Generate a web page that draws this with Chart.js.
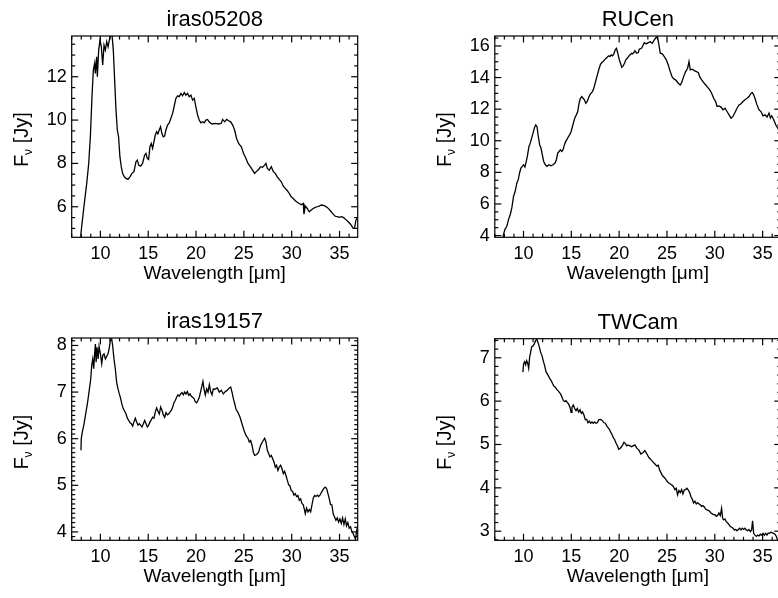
<!DOCTYPE html>
<html>
<head>
<meta charset="utf-8">
<script src="https://cdn.jsdelivr.net/npm/chart.js@4.4.1/dist/chart.umd.min.js"></script>
<style>
  html, body { margin: 0; padding: 0; background: #fff; overflow: hidden; width: 778px; height: 598px; }
  canvas { position: absolute; }
</style>
</head>
<body>
<canvas id="p1" width="389" height="299" style="left:0px;top:0px"></canvas>
<canvas id="p2" width="420" height="299" style="left:389px;top:0px"></canvas>
<canvas id="p3" width="389" height="299" style="left:0px;top:299px"></canvas>
<canvas id="p4" width="420" height="299" style="left:389px;top:299px"></canvas>
<script>
// shared x axis (wavelength, micron)
const xTicks = [10, 15, 20, 25, 30, 35];
const xRange = [7, 36.9];

// iras05208
const iras05208Wl = [7.95, 7.97, 8.08, 8.32, 8.57, 8.78, 8.95, 9.12, 9.26, 9.40, 9.47, 9.61, 9.68, 9.82, 9.96,
  10.10, 10.24, 10.38, 10.52, 10.66, 10.80, 10.93, 11.07, 11.21, 11.35, 11.49, 11.63, 11.77, 11.90,
  12.04, 12.18, 12.32, 12.50, 12.67, 12.88, 13.09, 13.30, 13.51, 13.72, 13.86, 14.00, 14.21, 14.41,
  14.62, 14.76, 14.90, 15.04, 15.18, 15.32, 15.46, 15.60, 15.74, 15.88, 16.01, 16.15, 16.29, 16.43,
  16.57, 16.71, 16.85, 17.02, 17.20, 17.37, 17.55, 17.72, 17.89, 18.07, 18.24, 18.42, 18.59, 18.77,
  18.94, 19.11, 19.29, 19.46, 19.64, 19.81, 19.98, 20.16, 20.33, 20.50, 20.68, 20.85, 21.03, 21.20,
  21.37, 21.55, 21.72, 22.00, 22.36, 22.64, 22.78, 22.99, 23.20, 23.41, 23.62, 23.83, 24.03, 24.24,
  24.45, 24.73, 24.97, 25.22, 25.43, 25.67, 25.91, 26.12, 26.30, 26.54, 26.75, 26.96, 27.17, 27.31,
  27.45, 27.66, 27.87, 28.08, 28.28, 28.49, 28.70, 28.91, 29.12, 29.33, 29.54, 29.74, 29.95, 30.16,
  30.37, 30.58, 30.79, 31.00, 31.21, 31.28, 31.42, 31.63, 31.83, 32.04, 32.25, 32.46, 32.67, 32.88,
  33.09, 33.30, 33.51, 33.71, 33.92, 34.13, 34.34, 34.55, 34.76, 34.97, 35.18, 35.39, 35.60, 35.80,
  36.01, 36.22, 36.43, 36.57, 36.71, 36.85];
const iras05208Flux = [4.55, 4.77, 5.23, 6.16, 7.08, 8.00, 9.23, 11.08, 12.31, 12.62, 12.15, 12.92, 12.00, 13.23, 13.69,
  13.38, 12.54, 13.46, 13.23, 13.62, 13.38, 13.69, 13.95, 13.95, 13.23, 11.85, 10.46, 9.54, 9.23,
  8.31, 7.85, 7.54, 7.38, 7.31, 7.26, 7.38, 7.54, 7.62, 8.08, 8.15, 7.92, 7.87, 8.00,
  8.38, 8.46, 8.23, 8.18, 8.77, 8.92, 8.69, 9.00, 9.31, 9.46, 9.36, 9.54, 9.69, 9.38,
  9.23, 9.26, 9.54, 9.77, 9.87, 10.08, 10.31, 10.65, 11.00, 11.12, 11.08, 11.23, 11.12, 11.27,
  11.15, 11.23, 11.08, 11.15, 10.92, 11.00, 10.62, 10.23, 10.00, 9.87, 9.92, 9.87, 10.00, 10.03,
  9.92, 9.85, 9.82, 9.85, 9.82, 9.85, 10.03, 9.92, 10.03, 9.97, 9.92, 9.77, 9.54, 9.15,
  8.92, 8.77, 8.46, 8.23, 8.00, 7.85, 7.69, 7.54, 7.62, 7.72, 7.85, 7.82, 7.92, 8.00,
  7.77, 7.69, 7.85, 7.62, 7.54, 7.38, 7.26, 7.15, 6.95, 6.85, 6.74, 6.62, 6.46, 6.38,
  6.28, 6.21, 6.15, 6.09, 6.15, 5.66, 6.03, 5.92, 5.77, 5.85, 5.92, 5.97, 6.00, 6.03,
  6.08, 6.06, 6.03, 5.97, 5.88, 5.77, 5.66, 5.56, 5.54, 5.51, 5.54, 5.51, 5.44, 5.35,
  5.26, 5.15, 5.00, 5.00, 5.38, 5.46];
const iras05208YTicks = [6, 8, 10, 12];

// RUCen
const ruCenWl = [7.85, 7.91, 8.05, 8.26, 8.43, 8.61, 8.78, 8.96, 9.13, 9.31, 9.45, 9.59, 9.73, 9.87, 10.01,
  10.15, 10.29, 10.43, 10.57, 10.71, 10.85, 11.00, 11.13, 11.27, 11.41, 11.55, 11.69, 11.83, 11.97,
  12.11, 12.29, 12.46, 12.67, 12.88, 13.09, 13.30, 13.44, 13.58, 13.72, 13.86, 14.00, 14.14, 14.28,
  14.42, 14.56, 14.70, 14.84, 14.98, 15.12, 15.26, 15.39, 15.53, 15.67, 15.81, 15.95, 16.09, 16.23,
  16.37, 16.51, 16.65, 16.79, 16.93, 17.07, 17.21, 17.35, 17.49, 17.63, 17.77, 17.91, 18.05, 18.19,
  18.33, 18.47, 18.61, 18.75, 18.89, 19.03, 19.17, 19.31, 19.45, 19.59, 19.72, 19.86, 20.00, 20.14,
  20.28, 20.42, 20.56, 20.70, 20.84, 20.98, 21.12, 21.30, 21.40, 21.54, 21.65, 21.82, 22.00, 22.10,
  22.34, 22.63, 22.83, 23.04, 23.25, 23.46, 23.67, 23.88, 24.02, 24.16, 24.30, 24.51, 24.72, 24.93,
  25.13, 25.34, 25.55, 25.76, 25.97, 26.18, 26.39, 26.53, 26.74, 26.95, 27.16, 27.30, 27.44, 27.65,
  27.86, 28.07, 28.28, 28.42, 28.63, 28.84, 29.05, 29.26, 29.47, 29.67, 29.88, 30.09, 30.23, 30.44,
  30.65, 30.86, 31.07, 31.28, 31.49, 31.70, 31.90, 32.11, 32.32, 32.53, 32.74, 32.95, 33.16, 33.37,
  33.58, 33.79, 33.93, 34.07, 34.20, 34.41, 34.62, 34.83, 35.04, 35.25, 35.46, 35.67, 35.81, 35.95,
  36.16, 36.37, 36.58, 36.85];
const ruCenFlux = [3.85, 4.06, 4.38, 4.59, 5.01, 5.32, 5.75, 6.48, 6.80, 7.33, 7.54, 7.96, 8.27, 8.38, 8.48,
  8.34, 8.69, 9.11, 9.64, 9.85, 10.17, 10.48, 10.80, 11.00, 10.90, 10.27, 9.75, 9.54, 9.11,
  8.69, 8.48, 8.38, 8.48, 8.42, 8.48, 8.59, 8.80, 9.22, 9.32, 9.43, 9.32, 9.43, 9.75,
  9.96, 10.10, 10.27, 10.38, 10.59, 10.90, 11.22, 11.49, 11.64, 11.85, 12.38, 12.69, 12.80, 12.69,
  12.59, 12.38, 12.48, 12.69, 12.90, 13.01, 13.11, 13.32, 13.64, 13.96, 14.27, 14.59, 14.84, 14.95,
  15.01, 15.12, 15.20, 15.28, 15.37, 15.33, 15.43, 15.37, 15.50, 15.75, 15.85, 15.54, 15.16, 14.91,
  14.65, 14.74, 14.91, 15.12, 15.22, 15.33, 15.43, 15.54, 15.50, 15.58, 15.70, 15.54, 15.58, 15.79,
  15.85, 16.21, 16.13, 16.21, 16.27, 16.17, 16.38, 16.55, 16.55, 16.06, 15.54, 15.50, 15.33, 15.12,
  14.80, 14.38, 14.02, 13.90, 13.81, 13.64, 13.53, 13.68, 14.06, 14.38, 14.59, 15.01, 14.48, 14.53,
  14.44, 14.38, 14.31, 14.06, 13.85, 13.68, 13.53, 13.38, 13.22, 13.01, 12.69, 12.48, 12.17, 12.21,
  12.13, 11.96, 12.06, 11.85, 11.64, 11.43, 11.54, 11.79, 12.06, 12.27, 12.34, 12.48, 12.59, 12.69,
  12.80, 13.01, 13.05, 12.90, 12.69, 12.27, 11.96, 11.85, 11.58, 11.64, 11.50, 11.75, 11.43, 11.58,
  11.33, 11.01, 10.80, 10.50];
const ruCenYTicks = [4, 6, 8, 10, 12, 14, 16];

// iras19157
const iras19157Wl = [7.97, 8.00, 8.11, 8.29, 8.46, 8.64, 8.81, 8.99, 9.09, 9.20, 9.30, 9.41, 9.48, 9.55, 9.65,
  9.76, 9.86, 10.00, 10.14, 10.25, 10.38, 10.52, 10.66, 10.80, 10.94, 11.04, 11.18, 11.28, 11.42,
  11.56, 11.70, 11.84, 11.98, 12.12, 12.26, 12.40, 12.54, 12.68, 12.82, 12.96, 13.10, 13.24, 13.37,
  13.51, 13.65, 13.79, 13.93, 14.07, 14.21, 14.35, 14.49, 14.63, 14.77, 14.91, 15.05, 15.19, 15.33,
  15.47, 15.60, 15.74, 15.88, 16.02, 16.16, 16.30, 16.44, 16.58, 16.72, 16.86, 17.00, 17.14, 17.28,
  17.42, 17.56, 17.69, 17.83, 17.97, 18.11, 18.25, 18.39, 18.53, 18.67, 18.81, 18.95, 19.09, 19.23,
  19.37, 19.51, 19.65, 19.79, 19.92, 20.06, 20.20, 20.34, 20.48, 20.62, 20.72, 20.83, 20.97, 21.11,
  21.25, 21.39, 21.53, 21.67, 21.81, 21.95, 22.22, 22.43, 22.64, 22.85, 23.06, 23.27, 23.48, 23.62,
  23.76, 23.90, 24.04, 24.18, 24.39, 24.60, 24.80, 25.01, 25.22, 25.43, 25.57, 25.71, 25.85, 25.99,
  26.13, 26.34, 26.54, 26.75, 26.96, 27.17, 27.31, 27.45, 27.59, 27.73, 27.87, 28.01, 28.15, 28.29,
  28.42, 28.56, 28.70, 28.84, 28.98, 29.12, 29.26, 29.40, 29.54, 29.68, 29.81, 29.95, 30.09, 30.23,
  30.37, 30.51, 30.65, 30.79, 30.93, 31.07, 31.21, 31.35, 31.42, 31.56, 31.70, 31.84, 31.98, 32.12,
  32.26, 32.40, 32.54, 32.68, 32.81, 32.95, 33.09, 33.23, 33.37, 33.51, 33.65, 33.79, 33.93, 34.06,
  34.20, 34.34, 34.48, 34.62, 34.76, 34.90, 35.04, 35.18, 35.32, 35.46, 35.60, 35.73, 35.87, 36.01,
  36.15, 36.29, 36.43, 36.57, 36.67, 36.77, 36.84];
const iras19157Flux = [5.75, 6.00, 6.14, 6.32, 6.53, 6.75, 7.00, 7.28, 7.57, 7.71, 7.50, 7.86, 8.03, 7.64, 7.96,
  7.71, 7.98, 7.82, 7.61, 7.79, 7.82, 7.71, 7.77, 7.82, 7.96, 8.11, 8.14, 8.00, 7.71,
  7.50, 7.21, 7.07, 6.96, 6.86, 6.73, 6.64, 6.59, 6.53, 6.44, 6.39, 6.34, 6.32, 6.27,
  6.36, 6.44, 6.36, 6.29, 6.32, 6.29, 6.25, 6.32, 6.39, 6.32, 6.25, 6.29, 6.36, 6.41,
  6.46, 6.44, 6.57, 6.66, 6.59, 6.53, 6.68, 6.61, 6.51, 6.46, 6.56, 6.51, 6.53, 6.57,
  6.61, 6.68, 6.77, 6.82, 6.89, 6.94, 6.91, 6.96, 6.99, 6.94, 7.00, 6.96, 7.01, 6.93,
  6.96, 6.91, 6.89, 6.86, 6.79, 6.77, 6.82, 6.89, 7.01, 7.14, 7.23, 7.07, 6.94, 7.07,
  7.00, 7.16, 7.01, 6.94, 7.07, 7.06, 7.09, 7.00, 7.04, 6.96, 7.01, 7.04, 7.09, 7.11,
  7.00, 6.86, 6.75, 6.63, 6.56, 6.46, 6.32, 6.18, 6.07, 6.01, 5.93, 5.96, 5.86, 5.71,
  5.64, 5.66, 5.71, 5.86, 5.94, 6.01, 5.93, 5.75, 5.68, 5.61, 5.64, 5.57, 5.50, 5.39,
  5.43, 5.32, 5.39, 5.43, 5.36, 5.25, 5.30, 5.21, 5.11, 5.01, 4.99, 4.89, 4.87, 4.79,
  4.82, 4.76, 4.78, 4.68, 4.71, 4.61, 4.58, 4.46, 4.39, 4.51, 4.43, 4.48, 4.43, 4.58,
  4.73, 4.78, 4.76, 4.79, 4.76, 4.79, 4.84, 4.89, 4.94, 4.96, 4.93, 4.82, 4.71, 4.59,
  4.58, 4.39, 4.32, 4.25, 4.30, 4.21, 4.28, 4.18, 4.30, 4.16, 4.28, 4.13, 4.20, 4.08,
  4.11, 4.01, 3.96, 3.89, 3.84, 4.00, 4.08];
const iras19157YTicks = [4, 5, 6, 7, 8];

// TWCam
const twCamWl = [9.94, 10.01, 10.12, 10.22, 10.33, 10.43, 10.54, 10.64, 10.75, 10.85, 10.99, 11.13, 11.27, 11.41,
  11.51, 11.65, 11.79, 11.93, 12.07, 12.21, 12.35, 12.49, 12.63, 12.77, 12.91, 13.05, 13.19, 13.33,
  13.47, 13.61, 13.75, 13.89, 14.03, 14.17, 14.30, 14.44, 14.58, 14.72, 14.86, 14.97, 15.07, 15.21,
  15.35, 15.49, 15.63, 15.77, 15.91, 16.05, 16.18, 16.32, 16.46, 16.60, 16.74, 16.88, 17.02, 17.16,
  17.30, 17.44, 17.58, 17.72, 17.86, 18.00, 18.14, 18.28, 18.42, 18.56, 18.70, 18.84, 18.98, 19.12,
  19.26, 19.40, 19.54, 19.68, 19.82, 19.95, 20.09, 20.23, 20.37, 20.51, 20.65, 20.79, 20.93, 21.30,
  21.65, 21.86, 22.07, 22.27, 22.48, 22.69, 22.90, 23.11, 23.32, 23.53, 23.74, 23.95, 24.09, 24.23,
  24.37, 24.51, 24.72, 24.93, 25.13, 25.34, 25.55, 25.69, 25.83, 25.97, 26.11, 26.25, 26.39, 26.53,
  26.67, 26.81, 26.95, 27.09, 27.23, 27.37, 27.50, 27.64, 27.78, 27.92, 28.06, 28.20, 28.34, 28.48,
  28.62, 28.76, 28.90, 29.04, 29.18, 29.32, 29.46, 29.60, 29.74, 29.88, 30.02, 30.15, 30.29, 30.43,
  30.57, 30.71, 30.82, 30.92, 31.06, 31.20, 31.34, 31.48, 31.62, 31.76, 31.90, 32.04, 32.18, 32.32,
  32.46, 32.60, 32.74, 32.87, 33.01, 33.15, 33.29, 33.43, 33.57, 33.71, 33.85, 33.95, 34.06, 34.20,
  34.34, 34.48, 34.62, 34.76, 34.90, 35.04, 35.18, 35.32, 35.45, 35.59, 35.73, 35.87, 36.01, 36.15,
  36.29, 36.43, 36.57];
const twCamFlux = [6.67, 6.86, 6.91, 6.84, 6.93, 6.88, 6.76, 7.01, 7.13, 7.25, 7.27, 7.32, 7.40, 7.42,
  7.36, 7.25, 7.13, 7.05, 6.93, 6.82, 6.68, 6.63, 6.57, 6.51, 6.47, 6.40, 6.34, 6.32,
  6.27, 6.24, 6.20, 6.16, 6.09, 6.01, 5.99, 6.01, 5.97, 5.93, 5.86, 5.74, 5.86, 5.91,
  5.83, 5.78, 5.83, 5.75, 5.80, 5.72, 5.75, 5.68, 5.57, 5.58, 5.50, 5.54, 5.49, 5.52,
  5.49, 5.52, 5.49, 5.50, 5.57, 5.58, 5.57, 5.54, 5.50, 5.49, 5.43, 5.39, 5.35, 5.28,
  5.23, 5.15, 5.11, 5.03, 4.97, 4.89, 4.91, 4.94, 4.99, 5.05, 5.02, 4.97, 4.99, 4.95,
  4.99, 4.91, 4.87, 4.78, 4.81, 4.86, 4.78, 4.70, 4.65, 4.60, 4.55, 4.50, 4.52, 4.41,
  4.35, 4.29, 4.24, 4.18, 4.12, 4.09, 4.06, 4.02, 3.96, 3.99, 3.84, 3.94, 3.89, 3.96,
  3.86, 3.95, 3.96, 3.99, 3.95, 3.89, 3.80, 3.74, 3.65, 3.69, 3.63, 3.66, 3.63, 3.61,
  3.57, 3.59, 3.56, 3.51, 3.49, 3.48, 3.46, 3.42, 3.40, 3.38, 3.38, 3.34, 3.36, 3.42,
  3.36, 3.53, 3.30, 3.26, 3.28, 3.22, 3.19, 3.15, 3.11, 3.09, 3.07, 3.03, 3.04, 3.01,
  3.04, 3.07, 3.03, 3.07, 3.04, 3.07, 3.03, 3.01, 3.04, 2.99, 3.03, 3.24, 2.95, 2.91,
  2.88, 2.91, 2.89, 2.93, 2.91, 2.95, 2.91, 2.95, 2.91, 2.96, 2.95, 2.98, 2.96, 2.95,
  2.93, 2.88, 2.79];
const twCamYTicks = [3, 4, 5, 6, 7];

const FONT = '"Liberation Sans", Arial, Helvetica, sans-serif';

// frame with inward major/minor ticks on all four sides, title and axis labels (IDL look)
const idlFrame = {
  id: 'idlFrame',
  afterDraw(chart, args, opts) {
    const ctx = chart.ctx;
    const { left, right, top, bottom } = chart.chartArea;
    const xs = chart.scales.x, ys = chart.scales.y;
    ctx.save();
    ctx.strokeStyle = '#000';
    ctx.fillStyle = '#000';
    ctx.lineWidth = 1.2;
    ctx.strokeRect(left, top, right - left, bottom - top);

    const seg = (x1, y1, x2, y2) => { ctx.beginPath(); ctx.moveTo(x1, y1); ctx.lineTo(x2, y2); ctx.stroke(); };
    const isMajor = (v, step) => Math.abs(v / step - Math.round(v / step)) < 1e-6;

    for (let i = Math.ceil(xs.min / opts.xMinor); i * opts.xMinor <= xs.max; i++) {
      const v = i * opts.xMinor;
      const px = xs.getPixelForValue(v);
      const len = isMajor(v, opts.xMajor) ? 6.5 : 3.5;
      seg(px, bottom, px, bottom - len);
      seg(px, top, px, top + len);
    }
    for (let i = Math.ceil(ys.min / opts.yMinor - 1e-9); i * opts.yMinor <= ys.max + 1e-9; i++) {
      const v = i * opts.yMinor;
      const py = ys.getPixelForValue(v);
      const len = isMajor(v, opts.yMajor) ? 6.5 : 3.5;
      seg(left, py, left + len, py);
      seg(right, py, right - len, py);
    }

    const cx = (left + right) / 2;
    ctx.textAlign = 'center';
    ctx.textBaseline = 'alphabetic';
    ctx.font = '22px ' + FONT;
    ctx.fillText(opts.title, cx, top - 10);
    ctx.font = '19px ' + FONT;
    ctx.fillText('Wavelength [\u03bcm]', cx, bottom + 42);

    // F_nu [Jy], rotated
    ctx.translate(left - 43.5, (top + bottom) / 2 + 3);
    ctx.rotate(-Math.PI / 2);
    ctx.textAlign = 'left';
    ctx.font = '20px ' + FONT;
    const wF = ctx.measureText('F').width;
    const wRest = ctx.measureText(' [Jy]').width;
    ctx.font = '12px ' + FONT;
    const wNu = ctx.measureText('\u03bd').width;
    let x = -(wF + wNu + wRest) / 2;
    ctx.font = '20px ' + FONT;
    ctx.fillText('F', x, 0);
    x += wF;
    ctx.font = '12px ' + FONT;
    ctx.fillText('\u03bd', x, 4);
    x += wNu;
    ctx.font = '20px ' + FONT;
    ctx.fillText(' [Jy]', x, 0);
    ctx.restore();
  }
};

function makePanel(id, box, title, wl, flux, yRange, yTicks, yMajor, yMinor) {
  const canvas = document.getElementById(id);
  const W = canvas.width, H = canvas.height;
  new Chart(canvas, {
    type: 'line',
    data: {
      datasets: [{
        data: wl.map((x, i) => ({ x: x, y: flux[i] })),
        borderColor: '#000',
        borderWidth: 1.3,
        pointRadius: 0,
        tension: 0,
        fill: false
      }]
    },
    options: {
      responsive: false,
      animation: false,
      devicePixelRatio: 1,
      layout: { padding: { left: 0, top: box.top, right: W - box.right, bottom: 0 } },
      plugins: {
        legend: { display: false },
        tooltip: { enabled: false },
        idlFrame: { title: title, xMajor: 5, xMinor: 1, yMajor: yMajor, yMinor: yMinor }
      },
      scales: {
        x: {
          type: 'linear',
          min: xRange[0],
          max: xRange[1],
          grid: { display: false, drawTicks: false },
          border: { display: false },
          afterBuildTicks: s => { s.ticks = xTicks.map(v => ({ value: v })); },
          afterFit: s => { s.height = H - box.bottom; },
          ticks: { color: '#000', font: { family: FONT, size: 18 }, padding: 6, maxRotation: 0, autoSkip: false }
        },
        y: {
          type: 'linear',
          min: yRange[0],
          max: yRange[1],
          grid: { display: false, drawTicks: false },
          border: { display: false },
          afterBuildTicks: s => { s.ticks = yTicks.map(v => ({ value: v })); },
          afterFit: s => { s.width = box.left; },
          ticks: { color: '#000', font: { family: FONT, size: 18 }, padding: 5, autoSkip: false }
        }
      }
    },
    plugins: [idlFrame]
  });
}

makePanel('p1', { left: 71.7, top: 36, right: 357.7, bottom: 237.3 }, 'iras05208',
  iras05208Wl, iras05208Flux, [4.59, 13.88], iras05208YTicks, 2, 0.5);
makePanel('p2', { left: 105.8, top: 36, right: 391.8, bottom: 237.3 }, 'RUCen',
  ruCenWl, ruCenFlux, [3.89, 16.63], ruCenYTicks, 2, 0.5);
makePanel('p3', { left: 71.7, top: 39, right: 357.7, bottom: 241.3 }, 'iras19157',
  iras19157Wl, iras19157Flux, [3.82, 8.16], iras19157YTicks, 1, 0.1);
makePanel('p4', { left: 105.8, top: 39.7, right: 391.8, bottom: 241.3 }, 'TWCam',
  twCamWl, twCamFlux, [2.79, 7.44], twCamYTicks, 1, 0.2);
</script>
</body>
</html>
